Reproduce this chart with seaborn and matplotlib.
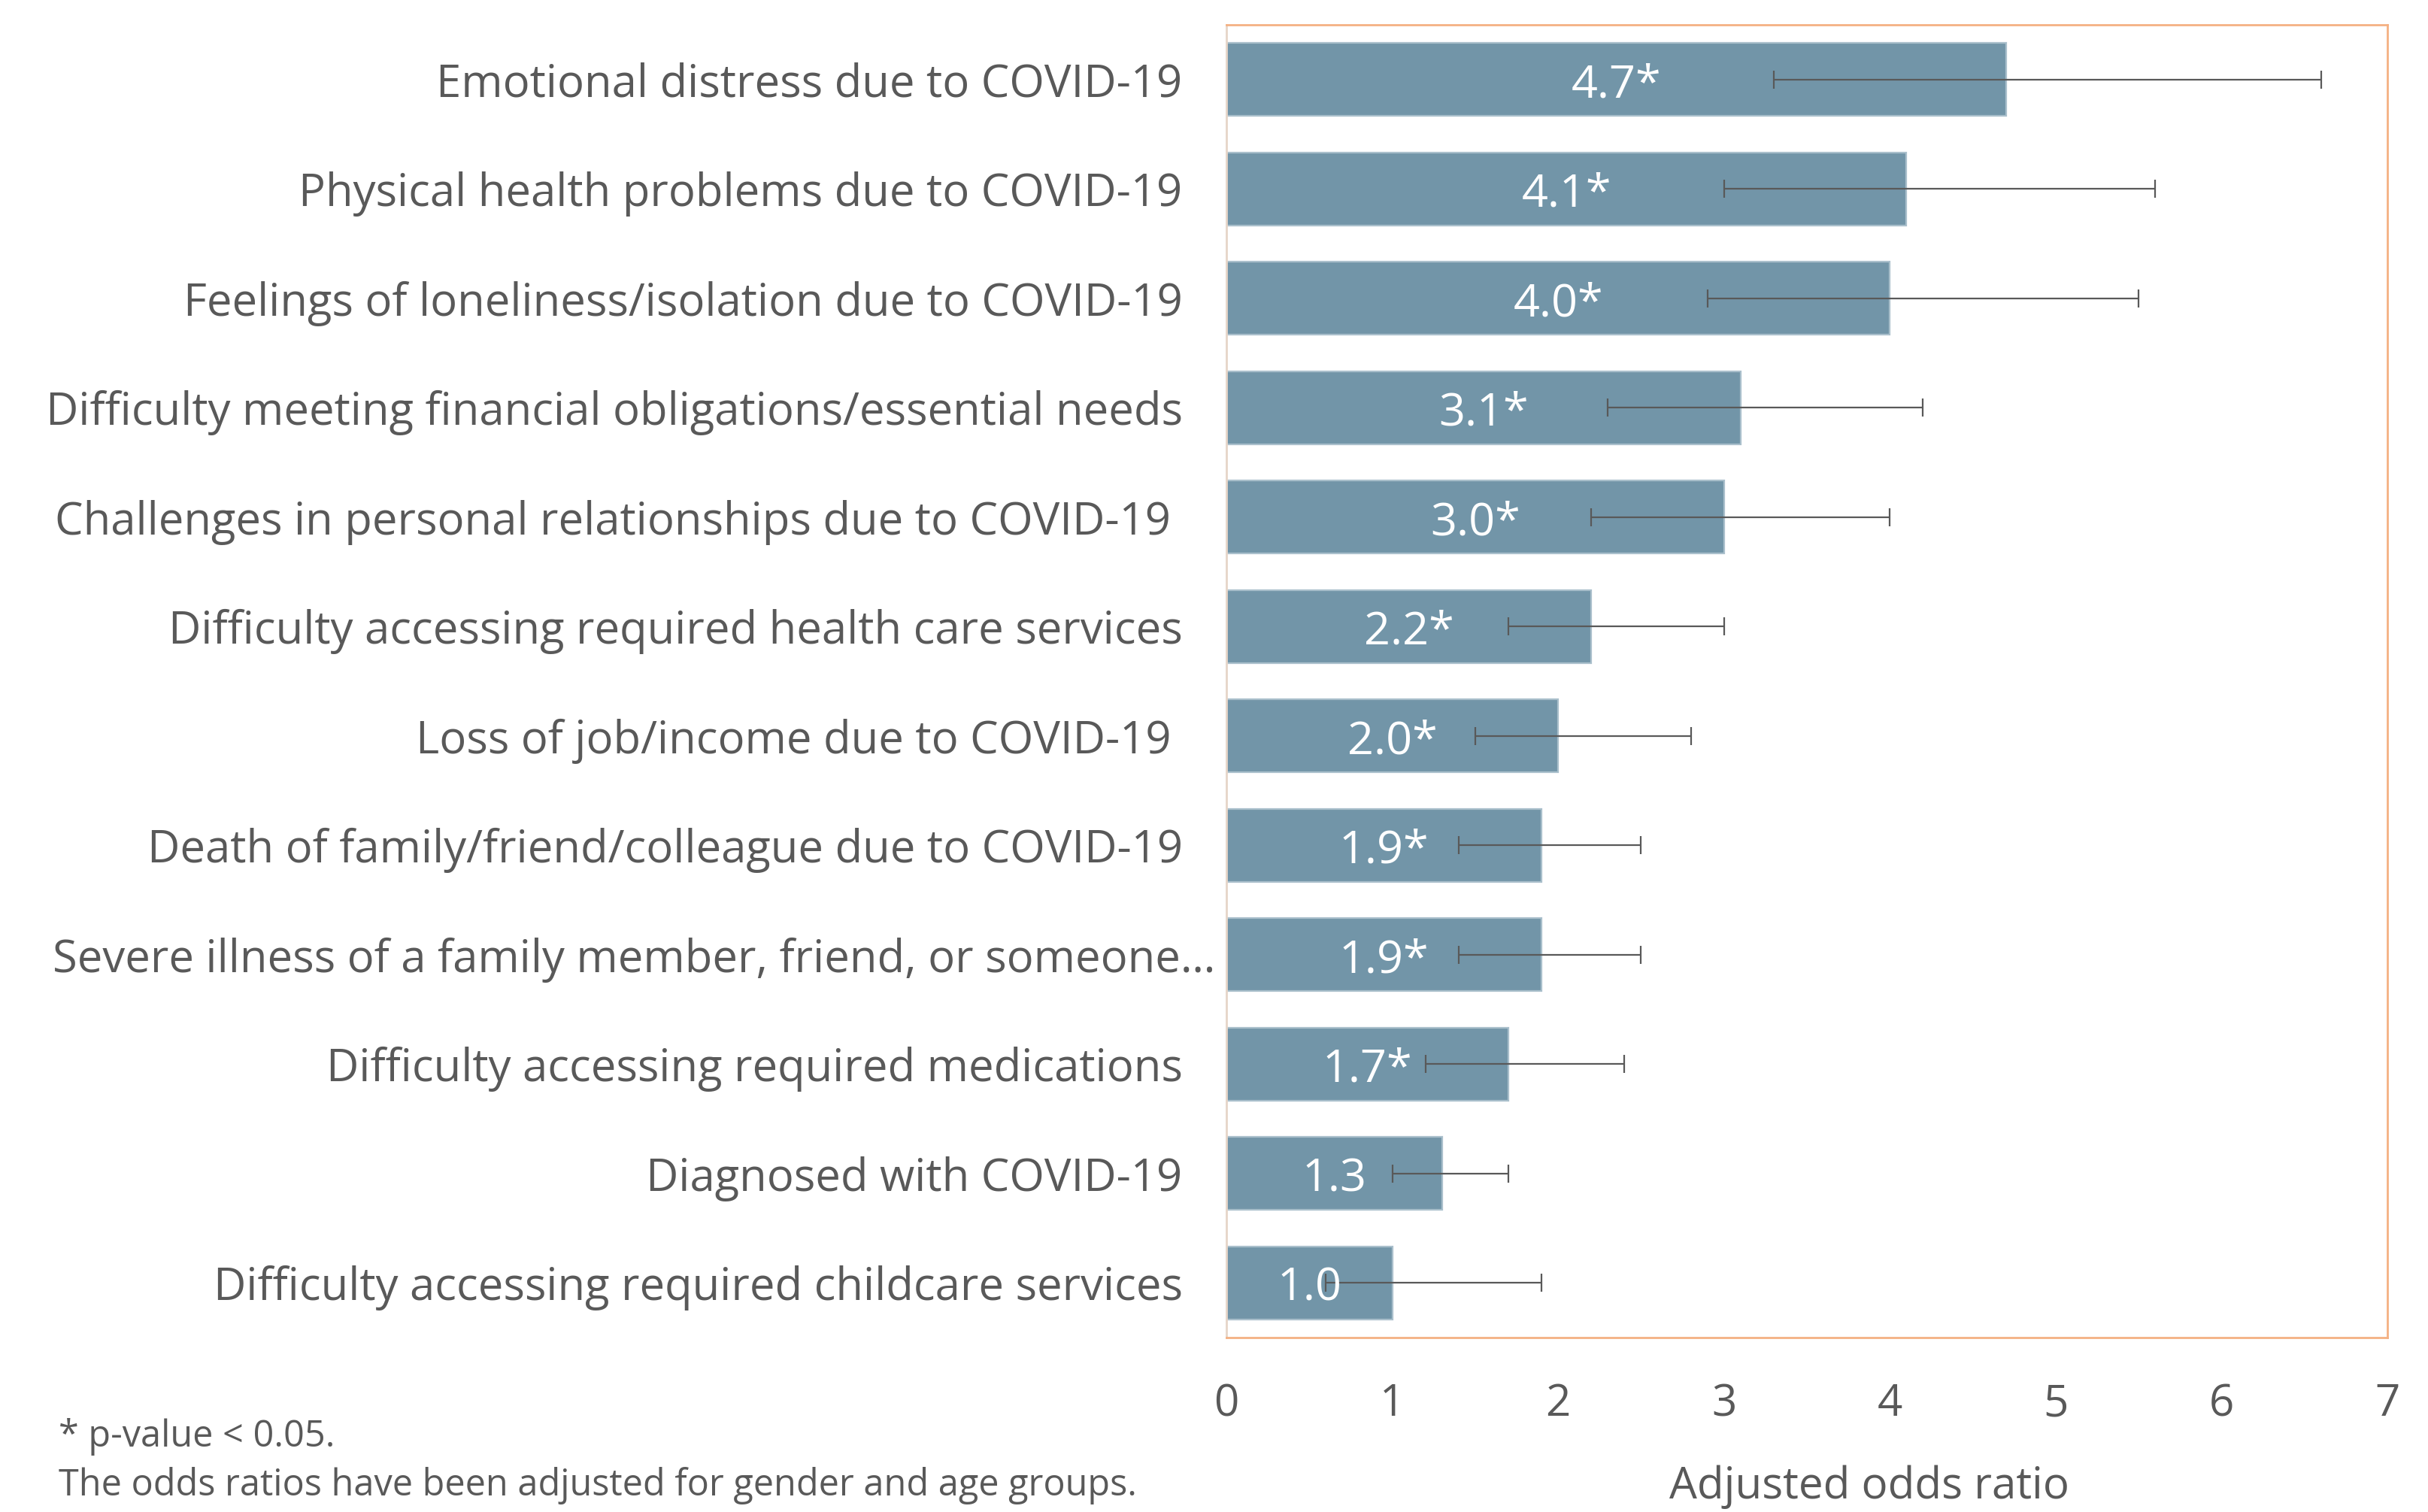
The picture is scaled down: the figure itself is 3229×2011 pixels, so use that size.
import matplotlib
matplotlib.use("Agg")
import matplotlib.pyplot as plt
import matplotlib.transforms as mtransforms
import seaborn as sns
import pandas as pd
import numpy as np

categories = [
    "Emotional distress due to COVID-19",
    "Physical health problems due to COVID-19",
    "Feelings of loneliness/isolation due to COVID-19",
    "Difficulty meeting financial obligations/essential needs",
    "Challenges in personal relationships due to COVID-19 ",
    "Difficulty accessing required health care services",
    "Loss of job/income due to COVID-19 ",
    "Death of family/friend/colleague due to COVID-19",
    "Severe illness of a family member, friend, or someone\u2026",
    "Difficulty accessing required medications",
    "Diagnosed with COVID-19",
    "Difficulty accessing required childcare services",
]
odds_ratio = [4.7, 4.1, 4.0, 3.1, 3.0, 2.2, 2.0, 1.9, 1.9, 1.7, 1.3, 1.0]
ci_lower = [3.3, 3.0, 2.9, 2.3, 2.2, 1.7, 1.5, 1.4, 1.4, 1.2, 1.0, 0.6]
ci_upper = [6.6, 5.6, 5.5, 4.2, 4.0, 3.0, 2.8, 2.5, 2.5, 2.4, 1.7, 1.9]
significant = [True] * 10 + [False, False]
x_ticks = [0, 1, 2, 3, 4, 5, 6, 7]

FONT = "Open Sans"
TXT = "#595959"
BAR = "#7295A8"

sns.set_theme(style="white")
plt.rcParams["font.family"] = [FONT, "DejaVu Sans"]

df = pd.DataFrame({"category": categories, "or": odds_ratio})

fig = plt.figure(figsize=(3229 / 200, 2011 / 200), dpi=200)
ax = fig.add_axes([1631 / 3229, 1 - 1779 / 2011, (3175 - 1631) / 3229, (1779 - 33) / 2011])

sns.barplot(data=df, x="or", y="category", orient="h", color=BAR, saturation=1,
            width=0.667, edgecolor="#a9bfcb", linewidth=0.8, errorbar=None, ax=ax)

ypos = np.arange(len(categories))
or_arr = np.array(odds_ratio)
xerr = [or_arr - np.array(ci_lower), np.array(ci_upper) - or_arr]
ax.errorbar(or_arr, ypos, xerr=xerr, fmt="none", ecolor="#595959",
            elinewidth=0.8, capsize=4.3, capthick=0.8, zorder=5)

for i, (v, s) in enumerate(zip(odds_ratio, significant)):
    lab = f"{v:.1f}" + ("*" if s else "")
    ax.text(v / 2, i + 0.05, lab, ha="center", va="center", color="white",
            fontsize=22, zorder=6)

ax.set_xlim(0, 7)
ax.set_ylim(len(categories) - 0.5, -0.5)
ax.set_xticks(x_ticks)
ax.set_xticklabels([str(t) for t in x_ticks])
ax.tick_params(axis="x", length=0, pad=21.5, labelsize=21, labelcolor=TXT)
ax.tick_params(axis="y", length=0, pad=21, labelsize=21.5, labelcolor=TXT)
ax.set_ylabel("")
ax.set_xlabel("Adjusted odds ratio", fontsize=21, color=TXT, va="center")
ax.xaxis.set_label_coords((2486 - 1631) / 1544, (1779 - 1978) / 1746)

for side in ["top", "right", "bottom"]:
    ax.spines[side].set_color("#F4B183")
    ax.spines[side].set_linewidth(1.0)
ax.spines["left"].set_color("#E6D5C8")
ax.spines["left"].set_linewidth(1.0)

# shift the truncated label to the right as in the reference
for lbl in ax.get_yticklabels():
    if lbl.get_text().startswith("Severe illness"):
        lbl.set_transform(lbl.get_transform() +
                          mtransforms.ScaledTranslation(44 / 200, 0, fig.dpi_scale_trans))

fig.text(78 / 3229, 1 - 1911 / 2011, "* p-value < 0.05.", fontsize=17.5, color=TXT,
         ha="left", va="center")
fig.text(78 / 3229, 1 - 1976 / 2011, "The odds ratios have been adjusted for gender and age groups.",
         fontsize=17.5, color=TXT, ha="left", va="center")

fig.savefig("out.png", dpi=200, facecolor="white")
